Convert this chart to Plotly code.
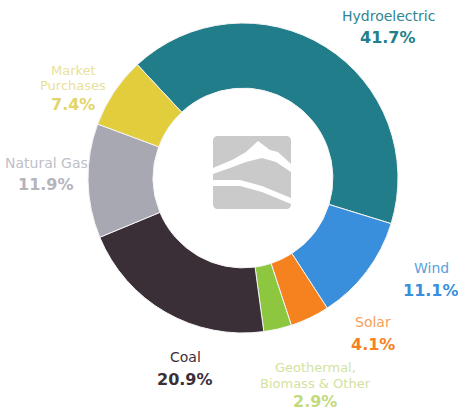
import plotly.graph_objects as go

W, H = 458, 410
categories = ["Hydroelectric", "Wind", "Solar", "Geothermal, Biomass & Other", "Coal", "Natural Gas", "Market Purchases"]
values = [41.7, 11.1, 4.1, 2.9, 20.9, 11.9, 7.4]
colors = ["#217d8a", "#3a8fdc", "#f5821f", "#8dc63f", "#3b2f37", "#a8a8b2", "#e2cd3c"]
label_lines = [["Hydroelectric"], ["Wind"], ["Solar"], ["Geothermal,", "Biomass & Other"], ["Coal"], ["Natural Gas"], ["Market", "Purchases"]]
label_colors = ["#2f8593", "#5a9fdc", "#f5a05a", "#d3e2a0", "#3b2f37", "#c0c0c6", "#e9e199"]
pct_colors = ["#247f8c", "#3a8fdc", "#f5821f", "#c3da7c", "#3b2f37", "#b4b4bc", "#e2d66a"]
# (center x, first line center y) for each label block
label_pos = [(388, 16), (431, 268), (373, 322), (315, 367), (185, 357), (46, 163), (73, 70)]

cx, cy, r = 243, 178, 155

def px(x):
    return x / W

def py(y):
    return 1 - y / H

fig = go.Figure(go.Pie(
    labels=categories, values=values, hole=0.58, sort=False, direction="clockwise",
    rotation=-43, marker=dict(colors=colors, line=dict(width=1, color="#f4f4f4")),
    textinfo="none", hoverinfo="label+percent", showlegend=False,
    domain=dict(x=[px(cx - r), px(cx + r)], y=[py(cy + r), py(cy - r)]),
))

FONT = "DejaVu Sans, sans-serif"
annotations = []
for lines, col, pcol, (x, y), v in zip(label_lines, label_colors, pct_colors, label_pos, values):
    multi = len(lines) > 1
    step = 16 if multi else 22
    size = 13 if multi else 14
    yy = y
    for ln in lines:
        annotations.append(dict(x=px(x), y=py(yy), xref="paper", yref="paper",
                                xanchor="center", yanchor="middle", text=ln, showarrow=False,
                                font=dict(family=FONT, size=size, color=col)))
        yy += step
    if multi:
        yy += 2
    annotations.append(dict(x=px(x), y=py(yy), xref="paper", yref="paper",
                            xanchor="center", yanchor="middle", text=f"<b>{v}%</b>", showarrow=False,
                            font=dict(family=FONT, size=16, color=pcol)))

shapes = [
    dict(type="path", xref="paper", yref="paper",
         path=f"M {px(218)},{py(136)} L {px(286)},{py(136)} Q {px(291)},{py(136)} {px(291)},{py(141)} "
              f"L {px(291)},{py(204)} Q {px(291)},{py(209)} {px(286)},{py(209)} L {px(218)},{py(209)} "
              f"Q {px(213)},{py(209)} {px(213)},{py(204)} L {px(213)},{py(141)} Q {px(213)},{py(136)} {px(218)},{py(136)} Z",
         fillcolor="#cacaca", line=dict(width=0)),
    dict(type="path", xref="paper", yref="paper",
         path=f"M {px(213)},{py(168)} L {px(232)},{py(160)} L {px(246)},{py(152)} L {px(258)},{py(141)} "
              f"L {px(270)},{py(150)} L {px(278)},{py(152)} L {px(291)},{py(164)} L {px(291)},{py(172)} "
              f"L {px(276)},{py(162)} L {px(262)},{py(158)} L {px(246)},{py(162)} L {px(230)},{py(168)} L {px(213)},{py(174)} Z",
         fillcolor="white", line=dict(width=0)),
    dict(type="path", xref="paper", yref="paper",
         path=f"M {px(213)},{py(180)} L {px(240)},{py(180)} L {px(262)},{py(186)} L {px(291)},{py(198)} L {px(291)},{py(204)} "
              f"L {px(262)},{py(192)} L {px(240)},{py(186)} L {px(213)},{py(186)} Z",
         fillcolor="white", line=dict(width=0)),
]

fig.update_layout(
    width=W, height=H, margin=dict(l=0, r=0, t=0, b=0),
    paper_bgcolor="white", plot_bgcolor="white",
    annotations=annotations, shapes=shapes,
)
fig.write_html("out.html")
